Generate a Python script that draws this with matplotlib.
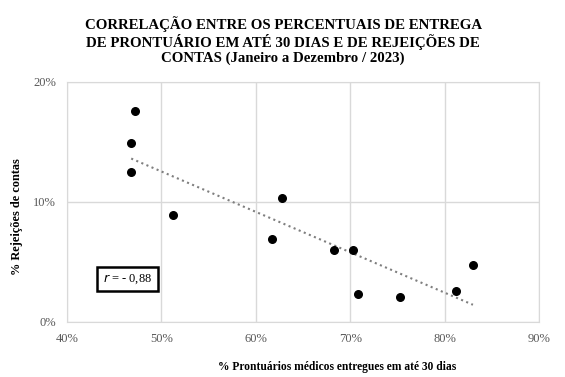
import numpy as np
import matplotlib.pyplot as plt
from matplotlib.ticker import FuncFormatter

# % prontuarios entregues em ate 30 dias (Jan-Dez 2023)
entregues = [47.2, 46.8, 46.8, 51.2, 61.7, 62.8, 68.3, 70.3, 70.8, 75.3, 81.2, 83.0]
# % rejeicoes de contas
rejeicoes = [17.6, 14.9, 12.5, 8.9, 6.9, 10.3, 6.0, 6.0, 2.3, 2.1, 2.6, 4.75]

x = np.array(entregues)
y = np.array(rejeicoes)
coef = np.polyfit(x, y, 1)
xt = np.array([x.min(), x.max()])

plt.rcParams['font.family'] = ['Liberation Serif', 'DejaVu Serif']

fig = plt.figure(figsize=(5.65, 3.77), dpi=100)
ax = fig.add_axes([0.1186, 0.1459, 0.8354, 0.6366])

ax.plot(xt, np.polyval(coef, xt), ':', color='#7f7f7f', lw=1.5, zorder=2)
ax.scatter(x, y, s=30, color='black', zorder=3)

ax.set_xlim(40, 90)
ax.set_ylim(0, 20)
ax.set_xticks([40, 50, 60, 70, 80, 90])
ax.set_yticks([0, 10, 20])
pct = FuncFormatter(lambda v, p: '%d%%' % v)
ax.xaxis.set_major_formatter(pct)
ax.yaxis.set_major_formatter(pct)
ax.tick_params(length=0, labelsize=9, labelcolor='#595959', pad=8)
ax.grid(True, color='#d9d9d9', lw=1)
ax.set_axisbelow(True)
for s in ax.spines.values():
    s.set_color('#d9d9d9')

ax.set_xlabel('% Prontuários médicos entregues em até 30 dias', fontsize=8.3,
              fontweight='bold')
ax.xaxis.set_label_coords(0.573, -0.164)
ax.set_ylabel('% Rejeições de contas', fontsize=8.8, fontweight='bold')
ax.yaxis.set_label_coords(-0.093, 0.4375)

ax.text(0.128, 0.179, '$\\it{r}$ = - 0,88', transform=ax.transAxes, fontsize=9,
        ha='center', va='center',
        bbox=dict(boxstyle='square,pad=0.45', fc='white', ec='black', lw=1.8))

fig.text(0.501, 0.893, 'CORRELAÇÃO ENTRE OS PERCENTUAIS DE ENTREGA\n'
         'DE PRONTUÁRIO EM ATÉ 30 DIAS E DE REJEIÇÕES DE\n'
         'CONTAS (Janeiro a Dezembro / 2023)',
         ha='center', va='center', fontsize=10.7, fontweight='bold', linespacing=1.15)

fig.savefig('out.png', dpi=100)
